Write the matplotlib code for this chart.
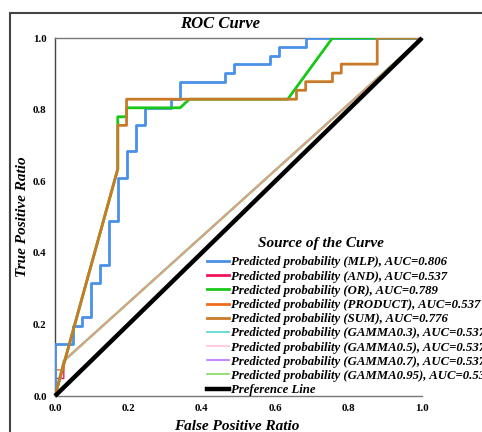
import matplotlib
matplotlib.use("Agg")
import matplotlib.pyplot as plt
from matplotlib.patches import Rectangle
from matplotlib.lines import Line2D

plt.rcParams['font.family'] = ['Liberation Serif', 'DejaVu Serif']

# ---- data ----
mlp_fpr = [0, 0, 0.049, 0.049, 0.073, 0.073, 0.098, 0.098, 0.122, 0.122, 0.146, 0.146,
           0.171, 0.171, 0.195, 0.195, 0.220, 0.220, 0.244, 0.244, 0.317, 0.317, 0.341, 0.341,
           0.463, 0.463, 0.488, 0.488, 0.585, 0.585, 0.610, 0.610, 0.683, 0.683, 1.0]
mlp_tpr = [0, 0.146, 0.146, 0.195, 0.195, 0.220, 0.220, 0.317, 0.317, 0.366, 0.366, 0.488,
           0.488, 0.610, 0.610, 0.683, 0.683, 0.756, 0.756, 0.805, 0.805, 0.829, 0.829, 0.878,
           0.878, 0.902, 0.902, 0.927, 0.927, 0.951, 0.951, 0.976, 0.976, 1.0, 1.0]

and_fpr = [0, 0, 0.024, 0.024, 1.0]
and_tpr = [0, 0.049, 0.049, 0.098, 1.0]

or_fpr = [0, 0.171, 0.171, 0.195, 0.195, 0.341, 0.366, 0.634, 0.756, 1.0]
or_tpr = [0, 0.634, 0.780, 0.780, 0.805, 0.805, 0.829, 0.829, 1.0, 1.0]

product_fpr = [0, 0, 0.024, 0.024, 1.0]
product_tpr = [0, 0.073, 0.073, 0.098, 1.0]

sum_fpr = [0, 0.171, 0.171, 0.195, 0.195, 0.658, 0.658, 0.683, 0.683, 0.756, 0.756,
           0.780, 0.780, 0.878, 0.878, 1.0]
sum_tpr = [0, 0.634, 0.756, 0.756, 0.829, 0.829, 0.854, 0.854, 0.878, 0.878, 0.902,
           0.902, 0.927, 0.927, 1.0, 1.0]

gamma_fpr = [0, 0.024, 1.0]
gamma_tpr = [0, 0.098, 1.0]

ref_fpr = [0, 1]
ref_tpr = [0, 1]

labels = ["Predicted probability (MLP), AUC=0.806",
          "Predicted probability (AND), AUC=0.537",
          "Predicted probability (OR), AUC=0.789",
          "Predicted probability (PRODUCT), AUC=0.537",
          "Predicted probability (SUM), AUC=0.776",
          "Predicted probability (GAMMA0.3), AUC=0.537",
          "Predicted probability (GAMMA0.5), AUC=0.537",
          "Predicted probability (GAMMA0.7), AUC=0.537",
          "Predicted probability (GAMMA0.95), AUC=0.537",
          "Preference Line"]
colors = ["#4a90e8", "#f0145a", "#18c818", "#f26b1d", "#c97a28",
          "#50d8c8", "#ffc2d8", "#c070ff", "#84d860", "#000000"]
widths = [2.0, 2.0, 2.0, 2.0, 2.0, 1.2, 1.2, 1.2, 1.2, 3.2]

tick_vals = [0.0, 0.2, 0.4, 0.6, 0.8, 1.0]
tick_labels = ["0.0", "0.2", "0.4", "0.6", "0.8", "1.0"]

# ---- figure ----
fig = plt.figure(figsize=(4.82, 4.32), dpi=100)
W, H = 482.0, 432.0
ax = fig.add_axes([55 / W, 1 - 396 / H, (422 - 55) / W, (396 - 38) / H])

# outer frame
fig.patches.append(Rectangle((10 / W, -0.1), 1.2, 1 - 13 / H + 0.1, transform=fig.transFigure,
                             fill=False, edgecolor="#444444", lw=1.5, clip_on=False))

ax.plot(and_fpr, and_tpr, color=colors[1], lw=1.0, zorder=2)
ax.plot(product_fpr, product_tpr, color=colors[3], lw=1.0, zorder=2)
ax.plot(gamma_fpr, gamma_tpr, color=colors[5], lw=1.0, zorder=2)
ax.plot(gamma_fpr, gamma_tpr, color=colors[7], lw=1.0, zorder=2)
ax.plot(gamma_fpr, gamma_tpr, color=colors[8], lw=1.8, zorder=2)
ax.plot(gamma_fpr, gamma_tpr, color="#e89898", lw=1.2, zorder=2)

ax.plot(mlp_fpr, mlp_tpr, color=colors[0], lw=2.0, zorder=3)
ax.plot(or_fpr, or_tpr, color=colors[2], lw=2.0, zorder=3)
ax.plot(sum_fpr, sum_tpr, color=colors[4], lw=2.0, zorder=3)
ax.plot(ref_fpr, ref_tpr, color=colors[9], lw=3.2, zorder=4, clip_on=False,
        solid_capstyle='butt')

ax.set_xlim(0, 1)
ax.set_ylim(0, 1)
ax.set_xticks(tick_vals)
ax.set_xticklabels(tick_labels)
ax.set_yticks(tick_vals)
ax.set_yticklabels(tick_labels)
ax.tick_params(length=0, labelsize=7.8, pad=6)
for lab in ax.get_xticklabels() + ax.get_yticklabels():
    lab.set_fontweight("bold")
ax.spines['right'].set_visible(False)
for s in ['left', 'bottom', 'top']:
    ax.spines[s].set_color("#777777")
    ax.spines[s].set_linewidth(1.0)
ax.spines['left'].set_color("#444444")

fig.text(220 / W, 1 - 24 / H, "ROC Curve", ha="center", va="center",
         fontsize=12, fontweight="bold", fontstyle="italic")
fig.text(23 / W, 1 - 217 / H, "True Positive Ratio", ha="center", va="center",
         rotation=90, fontsize=11, fontweight="bold", fontstyle="italic")
fig.text(237 / W, 1 - 427 / H, "False Positive Ratio", ha="center", va="center",
         fontsize=11, fontweight="bold", fontstyle="italic")

# legend
handles = [Line2D([], [], color=c, lw=w) for c, w in zip(colors, widths)]
leg = ax.legend(handles, labels, loc="upper left",
                bbox_to_anchor=(207 / W, 1 - 256.5 / H), bbox_transform=fig.transFigure,
                frameon=False, borderpad=0, borderaxespad=0, handlelength=1.75,
                handletextpad=0.12, labelspacing=0.17,
                prop={"size": 9.2, "weight": "bold", "style": "italic"})
leg.set_clip_on(False)
fig.text(321 / W, 1 - 244 / H, "Source of the Curve", ha="center", va="center",
         fontsize=11, fontweight="bold", fontstyle="italic")

fig.savefig("out.png", dpi=100)
